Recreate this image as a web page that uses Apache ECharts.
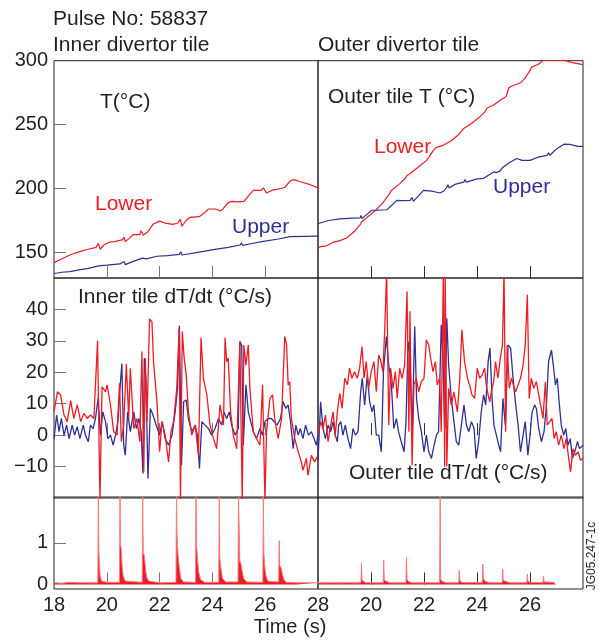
<!DOCTYPE html>
<html><head><meta charset="utf-8">
<script src="https://cdn.jsdelivr.net/npm/echarts@6/dist/echarts.min.js"></script>
<style>html,body{margin:0;padding:0;background:#fff}#c{width:599px;height:643px}</style>
</head><body><div id="c"></div>
<script>
// ---- Data (time in s) ----
const innerLowerT = [[18.0,142],[18.3,145],[18.6,148],[19.0,150.8],[19.3,152.5],[19.6,154],[19.68,157],[19.75,152.5],[19.9,156],[20.1,158],[20.3,158.5],[20.6,160],[20.65,162],[20.7,158.5],[20.85,161],[21.0,164],[21.25,164],[21.3,167],[21.38,163.5],[21.55,166],[21.75,172],[22.0,174.5],[22.2,173],[22.5,172],[22.7,173],[22.78,176],[22.85,170.5],[23.0,175],[23.15,177.5],[23.5,178],[23.7,181],[23.85,184],[24.1,184],[24.3,182.5],[24.4,184],[24.6,189],[24.75,190],[25.0,189.5],[25.2,190],[25.4,195],[25.55,198.5],[25.85,198.5],[25.93,200.5],[26.05,196.5],[26.3,199],[26.6,200],[26.75,201],[26.95,206],[27.1,207],[27.3,205.5],[27.7,203],[28.0,200.5]];
const innerUpperT = [[18.0,133.5],[18.05,132.5],[18.3,134.5],[18.6,135],[19.0,136.5],[19.3,137.5],[19.7,139.5],[19.75,138],[20.0,140],[20.5,141],[20.65,143],[20.7,140.5],[21.0,143],[21.35,145.5],[21.4,147],[21.5,145],[21.9,147],[22.3,147.5],[22.75,148.5],[22.8,150.5],[22.85,148],[23.5,150.3],[24.1,152.4],[24.6,154],[25.05,155.8],[25.1,157.5],[25.15,155.5],[25.5,157],[25.93,158.7],[25.97,160],[26.0,158.5],[26.5,160.5],[26.94,162.4],[27.0,163],[28.0,162.8]];
const outerLowerT = [[18.0,153.5],[18.08,154.5],[18.3,155],[18.58,158],[18.8,159],[19.08,161.3],[19.4,167],[19.6,172],[19.65,174],[19.7,175],[20.0,180],[20.2,183.4],[20.45,189],[20.7,196],[20.75,198],[20.8,196.5],[21.1,204],[21.3,208],[21.35,210],[21.4,208.5],[21.48,211.7],[21.8,217],[22.1,222],[22.2,225],[22.36,230],[22.45,232],[22.5,230.5],[22.74,234],[23.0,237],[23.12,239],[23.3,242],[23.5,247],[23.8,251],[24.1,256],[24.3,260],[24.38,263],[24.45,262],[24.6,265],[24.9,269.5],[25.1,272],[25.2,278.8],[25.25,277.5],[25.3,280],[25.64,282.7],[25.8,286],[26.02,293],[26.06,295],[26.1,294],[26.3,297],[26.52,300.5],[27.28,300.5],[27.6,298.5],[28.0,297]];
const outerUpperT = [[18.0,172.5],[18.08,173],[18.4,175],[18.83,176.3],[19.3,176.8],[19.59,177],[19.62,179],[19.66,176.5],[19.8,179],[20.03,183],[20.3,183],[20.6,183.4],[20.65,182],[20.98,190.7],[21.2,190.5],[21.48,190.7],[21.55,193],[21.6,190],[21.98,198.6],[22.3,198],[22.6,196.5],[22.75,198],[22.86,201],[22.9,203],[22.95,200.5],[23.2,203.5],[23.5,205],[23.55,207],[23.6,205],[24.0,207.5],[24.25,208],[24.4,210],[24.63,213],[24.75,212.5],[24.88,214],[24.95,216],[25.2,220],[25.5,223.5],[25.55,225],[25.7,222],[26.0,222],[26.05,223.5],[26.3,224.5],[26.65,226],[26.7,228],[26.75,226],[27.0,231],[27.28,234.7],[27.5,234.5],[27.8,233],[28.0,233]];

const innerLowerRate = [[18.00,7.4],[18.13,13.8],[18.25,12.8],[18.38,6.4],[18.50,4.3],[18.63,11.0],[18.75,5.3],[18.88,9.6],[19.01,4.3],[19.13,6.9],[19.26,5.3],[19.38,6.4],[19.51,5.3],[19.65,30.0],[19.74,-21],[19.82,15.4],[19.95,13.8],[20.01,16.0],[20.14,9.6],[20.26,1.1],[20.39,0],[20.48,16.5],[20.55,-2.1],[20.64,3.2],[20.74,22.6],[20.83,5.3],[20.89,21.3],[21.02,2.1],[21.14,5.3],[21.25,-2.1],[21.33,26.6],[21.40,-11.7],[21.46,24.5],[21.52,4.3],[21.62,37.0],[21.71,36.0],[21.77,23.4],[21.90,10.6],[22.00,-5.3],[22.09,4.3],[22.21,0],[22.34,-8.5],[22.43,1.1],[22.53,4.3],[22.65,14.9],[22.74,34.0],[22.79,-21],[22.86,33.0],[22.93,24.5],[23.01,19.1],[23.09,7.4],[23.22,0],[23.35,3.2],[23.47,-6.4],[23.57,31.0],[23.66,18.0],[23.79,12.8],[23.91,3.2],[24.04,-1.1],[24.16,-4.3],[24.29,9.6],[24.42,3.2],[24.48,31.0],[24.54,23.4],[24.60,24.5],[24.69,7.4],[24.79,0],[24.92,-4.3],[25.04,29.8],[25.13,-21],[25.19,28.7],[25.27,22.3],[25.36,28.7],[25.42,14.9],[25.55,1.1],[25.67,-1.1],[25.80,-3.2],[25.90,16.0],[25.99,-21],[26.05,1.1],[26.18,11.7],[26.28,12.8],[26.36,5.3],[26.49,-1.1],[26.62,5.3],[26.74,31.4],[26.81,28.7],[26.87,16.0],[26.93,17.0],[26.99,5.3],[27.12,-1.1],[27.25,-5.3],[27.37,-8.5],[27.43,-11.2],[27.56,-7.4],[27.62,-12.8],[27.75,-6.4],[27.87,-8.5],[28.00,-6.4]];
const innerUpperRate = [[18.00,-1.1],[18.10,6.4],[18.19,1.1],[18.28,5.3],[18.38,0],[18.48,3.2],[18.57,-1.1],[18.69,3.2],[18.78,0],[18.88,2.7],[18.98,-1.1],[19.11,3.2],[19.19,0],[19.30,-2.1],[19.38,3.2],[19.48,2.1],[19.57,5.3],[19.67,11.7],[19.76,0],[19.85,7.4],[19.95,4.3],[20.04,-1.1],[20.14,0],[20.24,-3.2],[20.33,0],[20.42,4.3],[20.49,13.8],[20.57,22.8],[20.64,-3.2],[20.70,-6.4],[20.79,7.4],[20.89,1.1],[21.02,7.4],[21.12,2.1],[21.22,5.3],[21.30,1.1],[21.37,-12.2],[21.42,24.5],[21.48,18.1],[21.56,-13.8],[21.65,8.5],[21.75,6.4],[21.87,3.2],[22.00,0],[22.10,4.3],[22.21,-1.1],[22.34,-3.2],[22.47,0],[22.59,7.4],[22.68,14.9],[22.75,34.8],[22.83,-9.6],[22.91,10.6],[23.01,11.2],[23.09,5.3],[23.22,1.1],[23.35,3.2],[23.43,0],[23.51,-10.6],[23.60,4.3],[23.72,3.2],[23.85,2.1],[23.97,0],[24.10,2.1],[24.23,5.3],[24.35,3.2],[24.44,7.4],[24.54,5.3],[24.64,7.4],[24.73,3.2],[24.86,0],[24.98,2.1],[25.04,29.8],[25.11,28.7],[25.17,-3.2],[25.27,16.0],[25.36,7.4],[25.45,4.3],[25.55,1.1],[25.67,-1.1],[25.80,2.1],[25.90,0],[25.99,4.3],[26.11,5.3],[26.24,5.3],[26.33,4.3],[26.45,3.2],[26.58,5.3],[26.68,10.6],[26.78,8.5],[26.87,9.6],[26.96,4.3],[27.06,-4.3],[27.16,3.2],[27.25,0],[27.33,2.1],[27.43,-1.1],[27.53,3.2],[27.64,0],[27.75,1.1],[27.85,-1.1],[27.94,-3.2],[28.00,0]];
const outerLowerRate = [[18.00,0],[18.10,4.3],[18.19,2.1],[18.28,6.4],[18.38,-2.1],[18.48,3.2],[18.57,7.4],[18.65,0],[18.73,7.4],[18.82,13.3],[18.91,8.5],[19.01,18.1],[19.11,16.0],[19.19,21.3],[19.28,18.1],[19.38,20.2],[19.48,18.1],[19.57,21.3],[19.66,28.2],[19.74,18.1],[19.82,23.4],[19.91,14.9],[20.01,20.2],[20.11,23.4],[20.20,13.8],[20.29,25.5],[20.36,23.9],[20.45,20.2],[20.52,34.0],[20.59,52],[20.67,3.2],[20.74,21.3],[20.83,14.9],[20.92,20.2],[20.99,11.7],[21.08,21.3],[21.17,18.1],[21.27,22.3],[21.36,45.7],[21.43,1.1],[21.47,39.4],[21.55,-9.6],[21.62,16.0],[21.71,18.1],[21.80,13.8],[21.90,17.0],[22.00,18.1],[22.09,30.3],[22.18,28.7],[22.25,24.5],[22.34,20.2],[22.43,23.4],[22.50,16.0],[22.59,18.1],[22.65,1.1],[22.73,52],[22.78,-10],[22.80,52],[22.86,-10],[22.93,14.9],[23.03,9.6],[23.13,13.8],[23.26,7.4],[23.35,18.1],[23.43,33.5],[23.53,23.4],[23.64,18.1],[23.72,16.0],[23.81,12.8],[23.91,11.7],[24.01,21.3],[24.10,18.1],[24.19,19.1],[24.29,21.3],[24.35,16.0],[24.42,12.8],[24.48,10.6],[24.54,13.8],[24.63,17.0],[24.70,23.4],[24.79,18.1],[24.88,24.5],[24.96,28.7],[25.02,52],[25.08,1.1],[25.14,28.7],[25.22,14.9],[25.30,18.1],[25.37,16.0],[25.46,13.8],[25.55,16.0],[25.64,18.1],[25.74,22.3],[25.82,28.7],[25.90,44.7],[25.97,11.7],[26.05,18.1],[26.14,14.9],[26.24,17.0],[26.33,12.8],[26.40,9.6],[26.49,5.3],[26.58,17.0],[26.65,3.2],[26.74,4.3],[26.83,5.3],[26.91,-1.1],[26.99,1.1],[27.08,-3.2],[27.18,0],[27.28,-4.3],[27.37,-1.1],[27.46,-7.4],[27.53,-11.7],[27.62,-4.3],[27.71,-6.4],[27.81,-5.3],[27.91,-8.0],[28.00,-7.4]];
const outerUpperRate = [[18.00,-8.0],[18.10,10.6],[18.19,2.1],[18.28,-1.1],[18.38,3.2],[18.48,1.1],[18.57,4.3],[18.65,0],[18.73,-2.1],[18.78,3.2],[18.86,4.3],[18.94,0],[19.03,3.2],[19.13,-1.1],[19.23,-4.3],[19.32,2.1],[19.41,0],[19.51,1.1],[19.61,13.8],[19.67,18.1],[19.76,9.6],[19.86,19.1],[19.95,10.6],[20.04,7.4],[20.11,9.6],[20.20,0],[20.29,0],[20.39,-5.3],[20.47,20.2],[20.58,31.4],[20.67,22.3],[20.77,16.0],[20.86,2.1],[20.96,5.3],[21.04,1.1],[21.14,-2.1],[21.25,-5.3],[21.32,4.3],[21.40,29.8],[21.47,25.5],[21.55,0],[21.65,34.6],[21.72,11.7],[21.80,5.3],[21.90,1.1],[22.00,-5.3],[22.09,0],[22.18,-5.3],[22.28,-7.4],[22.38,-3.2],[22.47,0],[22.55,1.1],[22.65,35.1],[22.72,23.4],[22.78,2.1],[22.86,37.2],[22.93,22.3],[23.03,11.7],[23.13,4.3],[23.22,-2.1],[23.31,-3.2],[23.41,3.2],[23.51,9.6],[23.60,3.2],[23.69,1.1],[23.79,4.3],[23.89,2.1],[23.97,-7.4],[24.06,-2.1],[24.16,7.4],[24.25,12.8],[24.33,9.6],[24.42,23.4],[24.49,27.7],[24.57,11.7],[24.64,3.2],[24.73,0],[24.82,-3.2],[24.89,-5.3],[24.98,11.7],[25.07,3.2],[25.17,28.7],[25.27,27.7],[25.36,18.1],[25.45,10.6],[25.55,3.2],[25.64,-5.3],[25.74,0],[25.82,4.3],[25.92,-6.4],[26.00,0],[26.08,7.4],[26.18,9.6],[26.24,8.5],[26.33,2.1],[26.43,-2.1],[26.53,1.1],[26.62,9.6],[26.70,23.4],[26.81,27.1],[26.88,22.3],[26.96,16.0],[27.03,18.1],[27.11,9.6],[27.18,3.2],[27.27,0],[27.35,2.1],[27.43,-3.2],[27.52,-1.1],[27.60,-7.4],[27.69,-5.3],[27.79,-2.1],[27.87,-4.3],[28.00,-3.2]];

const innerBottom = [[18.0,0.04],[18.3,0.03],[18.6,0.05],[19.0,0.04],[19.66,0.04],[19.68,2.2],[19.70,0.75],[19.72,0.55],[19.75,0.2],[19.8,0.08],[20.0,0.05],[20.48,0.05],[20.50,2.2],[20.52,0.95],[20.55,0.85],[20.58,0.45],[20.62,0.2],[20.7,0.08],[21.34,0.05],[21.36,2.2],[21.38,0.75],[21.42,0.7],[21.45,0.5],[21.48,0.3],[21.52,0.15],[21.6,0.08],[22.0,0.04],[22.62,0.05],[22.64,2.2],[22.66,1.2],[22.7,0.7],[22.74,0.45],[22.8,0.15],[22.9,0.06],[23.36,0.05],[23.38,2.2],[23.40,0.95],[23.44,0.6],[23.48,0.3],[23.55,0.12],[23.7,0.05],[24.24,0.05],[24.26,2.2],[24.28,0.65],[24.32,0.4],[24.38,0.15],[24.5,0.06],[24.97,0.06],[24.99,2.2],[25.01,1.5],[25.04,0.55],[25.08,0.5],[25.12,0.35],[25.18,0.15],[25.3,0.06],[25.91,0.05],[25.93,2.2],[25.95,0.75],[25.98,0.45],[26.03,0.2],[26.1,0.08],[26.51,0.06],[26.53,1.05],[26.55,0.45],[26.6,0.4],[26.65,0.25],[26.72,0.1],[26.8,0.05],[27.2,0.04],[28.0,0.04]];
const outerBottom = [[18.0,0.04],[18.6,0.04],[18.65,0.06],[19.0,0.04],[19.62,0.04],[19.64,0.52],[19.66,0.1],[19.72,0.06],[19.8,0.04],[20.46,0.04],[20.48,0.58],[20.5,0.1],[20.56,0.06],[20.7,0.04],[21.32,0.04],[21.34,0.66],[21.36,0.12],[21.42,0.07],[21.55,0.04],[22.59,0.04],[22.61,2.2],[22.63,0.12],[22.7,0.07],[22.85,0.04],[23.31,0.04],[23.33,0.34],[23.35,0.1],[23.42,0.05],[24.2,0.04],[24.22,0.49],[24.24,0.14],[24.3,0.08],[24.45,0.04],[24.95,0.04],[24.97,0.37],[24.99,0.1],[25.1,0.07],[25.25,0.04],[25.88,0.04],[25.9,0.25],[25.92,0.08],[26.0,0.05],[26.49,0.04],[26.51,0.2],[26.53,0.06],[26.9,0.05],[26.96,0.0]];

const xLabelsLeft = [18,20,22,24,26,28];
const xLabelsRight = [20,22,24,26];
const xTickValues = [20,22,24,26];
const yLabelsT = [150,200,250,300];
const yTicksT = [150,200,250];
const yLabelsRate = [-10,0,10,20,30,40];
const yLabelsBottom = [0,1];
const yTicksBottom = [1];

// ---- Styling / layout ----
const FONT = '"Liberation Sans", Arial, Helvetica, sans-serif';
const TXT = '#231f20';
const RED = '#ed1c24', BLUE = '#2e3192';
const colLeft = [54, 318], colWidth = [264, 265];
const rows = [
  {top: 60.7, h: 217.3, min: 130, max: 300, labels: yLabelsT, ticks: yTicksT},
  {top: 278, h: 220, min: -20, max: 50, labels: yLabelsRate, ticks: yLabelsRate},
  {top: 497, h: 92, min: -0.11, max: 2.1, labels: yLabelsBottom, ticks: yTicksBottom}
];

const grid = [], xAxis = [], yAxis = [];
rows.forEach((row, r) => {
  [0, 1].forEach(c => {
    const gi = grid.length;
    grid.push({left: colLeft[c], top: row.top, width: colWidth[c], height: row.h,
      show: true, borderColor: '#222', borderWidth: 1, backgroundColor: 'transparent'});
    xAxis.push({type: 'value', gridIndex: gi, min: 18, max: 28,
      axisLine: {show: false}, splitLine: {show: false},
      axisTick: {show: true, inside: true, length: 12, customValues: xTickValues,
                 lineStyle: {color: c === 0 ? '#777' : '#333', width: 1}},
      axisLabel: {show: r === 2, customValues: c === 0 ? xLabelsLeft : xLabelsRight,
                  fontSize: 20, color: TXT, fontFamily: FONT, margin: 6}});
    yAxis.push({type: 'value', gridIndex: gi, min: row.min, max: row.max,
      axisLine: {show: false}, splitLine: {show: false},
      axisTick: {show: c === 0, inside: true, length: 12, customValues: row.ticks,
                 lineStyle: {color: '#777', width: 1}},
      axisLabel: {show: c === 0, customValues: row.labels, fontSize: 20, color: TXT,
                  fontFamily: FONT, margin: 6,
                  formatter: v => v < 0 ? '\u2212' + Math.abs(v) : String(v)}});
  });
});

function line(data, gi, color, width) {
  return {type: 'line', data, xAxisIndex: gi, yAxisIndex: gi, symbol: 'none',
          lineStyle: {color, width}, itemStyle: {color}, silent: true, clip: true};
}
function area(data, gi) {
  return {type: 'line', data, xAxisIndex: gi, yAxisIndex: gi, symbol: 'none',
          lineStyle: {color: '#f37e83', width: 1}, areaStyle: {color: RED, opacity: 1},
          itemStyle: {color: RED}, silent: true, clip: true};
}

const series = [
  line(innerLowerT, 0, RED, 1.2), line(innerUpperT, 0, BLUE, 1.2),
  line(outerLowerT, 1, RED, 1.2), line(outerUpperT, 1, BLUE, 1.2),
  line(innerUpperRate, 2, BLUE, 1.3), line(innerLowerRate, 2, RED, 1.3),
  line(outerUpperRate, 3, BLUE, 1.3), line(outerLowerRate, 3, RED, 1.3),
  area(innerBottom, 4), area(outerBottom, 5)
];

function txt(x, y, text, opts) {
  return Object.assign({type: 'text', z: 100, style: Object.assign({x, y, text,
    font: '21px ' + FONT, fill: TXT, textVerticalAlign: 'middle', textAlign: 'left'}, opts || {})});
}
const graphic = [
  txt(53, 19, 'Pulse No: 58837'),
  txt(53, 45, 'Inner divertor tile'),
  txt(318, 45, 'Outer divertor tile'),
  txt(100, 102, 'T(\u00b0C)'),
  txt(328, 97.5, 'Outer tile T (\u00b0C)'),
  txt(95, 204, 'Lower', {fill: RED}),
  txt(232, 227, 'Upper', {fill: BLUE}),
  txt(374, 147, 'Lower', {fill: RED}),
  txt(493, 187, 'Upper', {fill: BLUE}),
  txt(78, 297, 'Inner tile dT/dt (\u00b0C/s)'),
  txt(349, 473, 'Outer tile dT/dt (\u00b0C/s)'),
  txt(290, 627, 'Time (s)', {textAlign: 'center', font: '20px ' + FONT}),
  {type: 'text', z: 100, x: 592, y: 556, rotation: Math.PI / 2,
   style: {x: 0, y: 0, text: 'JG05.247-1c', font: '12px ' + FONT, fill: TXT,
           textAlign: 'center', textVerticalAlign: 'middle'}}
];

const chart = echarts.init(document.getElementById('c'), null, {renderer: 'canvas'});
chart.setOption({animation: false, backgroundColor: '#fff', grid, xAxis, yAxis, series, graphic});
</script></body></html>
